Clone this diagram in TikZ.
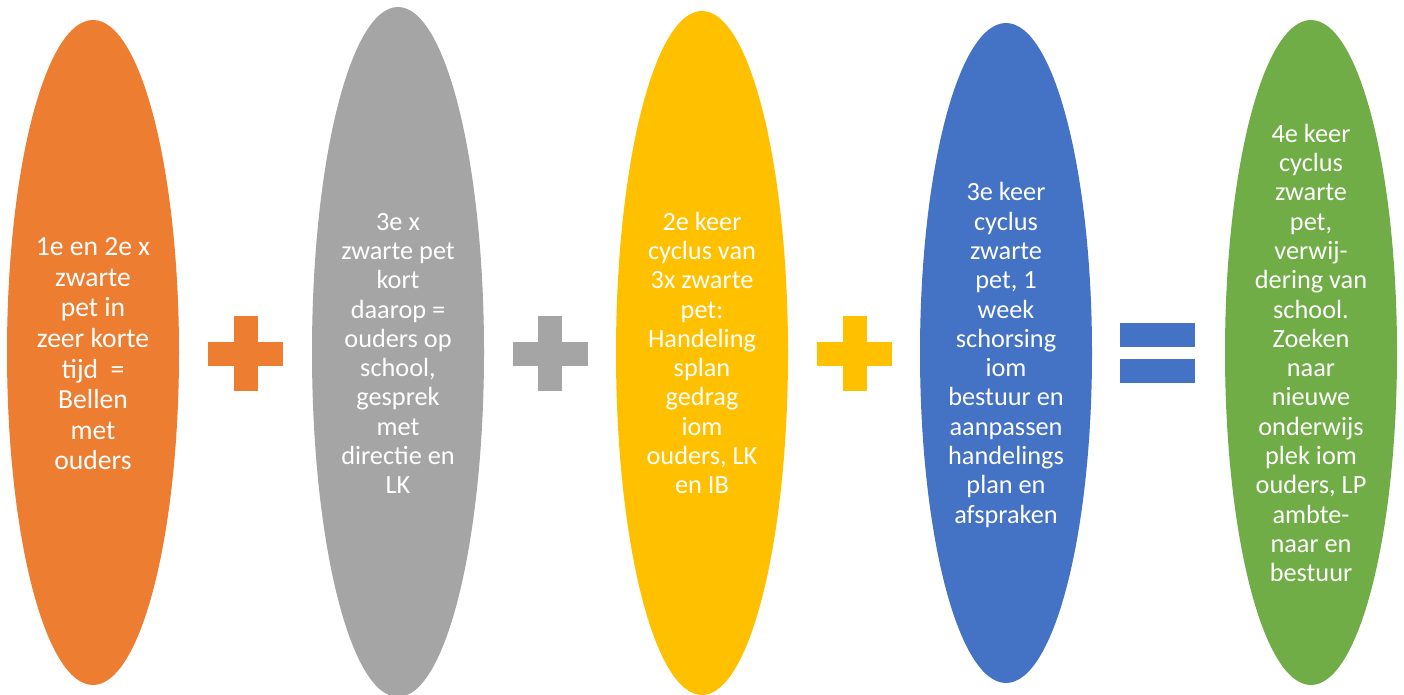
\documentclass[tikz,border=0pt]{standalone}
\usepackage{fontspec}
\setmainfont{Carlito}
\usetikzlibrary{shapes.geometric}
\definecolor{cOrange}{HTML}{ED7D31}
\definecolor{cGray}{HTML}{A5A5A5}
\definecolor{cYellow}{HTML}{FFC000}
\definecolor{cBlue}{HTML}{4472C4}
\definecolor{cGreen}{HTML}{70AD47}
\begin{document}
\begin{tikzpicture}[x=1pt,y=-1pt,
  blob/.style={ellipse, inner sep=0pt, minimum width=172pt},
  txt/.style={text=white, align=center, inner sep=0pt, font=\fontsize{26.3}{29.3}\selectfont},
  bigtxt/.style={txt, font=\fontsize{27.6}{30.6}\selectfont},
  hbar/.style={rectangle, inner sep=0pt, minimum width=75pt, minimum height=24pt},
  vbar/.style={rectangle, inner sep=0pt, minimum width=24pt, minimum height=75pt}]
\useasboundingbox (0,0) rectangle (1404,695);
% ellipses
\node[blob, fill=cOrange, minimum height=665pt] (e1) at (93,352.5) {};
\node[blob, fill=cGray, minimum height=690pt] (e2) at (398,352) {};
\node[blob, fill=cYellow, minimum height=684pt] (e3) at (702,353) {};
\node[blob, fill=cBlue, minimum height=660pt] (e4) at (1006,353) {};
\node[blob, fill=cGreen, minimum height=665pt] (e5) at (1311,352.5) {};
% texts
\node[bigtxt] (t1) at (93,354) {1e en 2e x\\zwarte\\pet in\\zeer korte\\tijd~~=\\Bellen\\met\\ouders};
\node[txt] (t2) at (398,353.5) {3e x\\zwarte pet\\kort\\daarop =\\ouders op\\school,\\gesprek\\met\\directie en\\LK};
\node[txt] (t3) at (702,353) {2e keer\\cyclus van\\3x zwarte\\pet:\\Handeling\\splan\\gedrag\\iom\\ouders, LK\\en IB};
\node[txt] (t4) at (1006,355) {3e keer\\cyclus\\zwarte\\pet, 1\\week\\schorsing\\iom\\bestuur en\\aanpassen\\handelings\\plan en\\afspraken};
\node[txt] (t5) at (1311,353) {4e keer\\cyclus\\zwarte\\pet,\\verwij-\\dering van\\school.\\Zoeken\\naar\\nieuwe\\onderwijs\\plek iom\\ouders, LP\\ambte-\\naar en\\bestuur};
% plus signs
\node[hbar, fill=cOrange] (p1h) at (245.5,353.5) {};
\node[vbar, fill=cOrange] (p1v) at (245.5,353.5) {};
\node[hbar, fill=cGray] (p2h) at (550,353.5) {};
\node[vbar, fill=cGray] (p2v) at (550,353.5) {};
\node[hbar, fill=cYellow] (p3h) at (854.5,353.5) {};
\node[vbar, fill=cYellow] (p3v) at (854.5,353.5) {};
% equals sign
\node[hbar, fill=cBlue] (q1) at (1157,335) {};
\node[hbar, fill=cBlue] (q2) at (1157,371) {};
\end{tikzpicture}
\end{document}
